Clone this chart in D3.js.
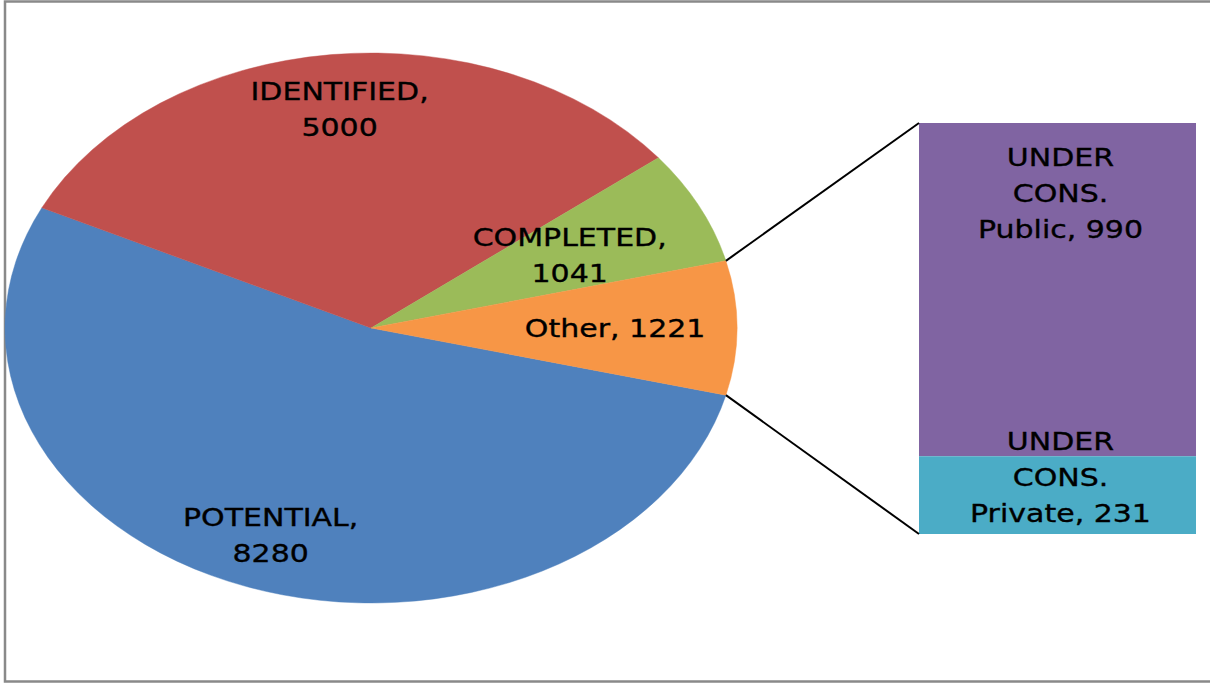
<!DOCTYPE html>
<html><head><meta charset="utf-8">
<script src="https://cdn.jsdelivr.net/npm/d3@7"></script>
<style>html,body{margin:0;padding:0;background:#fff;overflow:hidden}</style>
</head><body>
<svg id="c" width="1210" height="684"></svg>
<script>
// ---- data ----
const pieCategories = ["POTENTIAL", "IDENTIFIED", "COMPLETED"];
const pieValues = [8280, 5000, 1041];
const otherLabel = "Other";
const barCategories = ["UNDER CONS. Public", "UNDER CONS. Private"];
const barValues = [990, 231];

// ---- styles / layout ----
const pieColors = ["#4F81BD", "#C0504D", "#9BBB59"];
const otherColor = "#F79646";
const barColors = ["#8064A2", "#4BACC6"];
const labelRadius = [0.80, 0.80, 0.605]; // fraction of radius for each pie label
const otherLabelRadius = 0.667;

const svg = d3.select("#c");
const W = 1210, H = 684;
svg.append("rect").attr("x", 5).attr("y", 1.5).attr("width", W).attr("height", 680)
  .attr("fill", "#fff").attr("stroke", "#898989").attr("stroke-width", 2.5);

const cx = 371, cy = 328, rx = 366, ry = 275;
const otherValue = d3.sum(barValues);
const allCats = pieCategories.concat([otherLabel]);
const allVals = pieValues.concat([otherValue]);
const allColors = pieColors.concat([otherColor]);
const total = d3.sum(allVals);
const otherFrac = otherValue / total;
const start = Math.PI / 2 + otherFrac * Math.PI;

const pie = d3.pie().sort(null).startAngle(start).endAngle(start + 2 * Math.PI);
const arcs = pie(allVals);
const arc = d3.arc().innerRadius(0).outerRadius(rx);

const pg = svg.append("g").attr("transform", `translate(${cx},${cy}) scale(1,${ry / rx})`);
pg.selectAll("path").data(arcs).join("path")
  .attr("d", arc).attr("fill", (d, i) => allColors[i])
  .attr("stroke", (d, i) => allColors[i]).attr("stroke-width", 0.5);

function pt(a, f) { return [cx + rx * f * Math.sin(a), cy - ry * f * Math.cos(a)]; }

const fontFam = "'DejaVu Sans', sans-serif";
const fs = 25, lh = 36, sx = 1.2;
function drawLabel(x, yFirst, lines) {
  const g = svg.append("g").attr("transform", `translate(${x},${yFirst}) scale(${sx},1)`);
  lines.forEach((t, k) => {
    g.append("text").attr("x", 0).attr("y", k * lh).attr("dy", "0.36em")
      .attr("text-anchor", "middle").attr("font-family", fontFam).attr("font-size", fs)
      .attr("fill", "#000").attr("stroke", "#000").attr("stroke-width", 0.35).text(t);
  });
}

arcs.forEach((d, i) => {
  const mid = (d.startAngle + d.endAngle) / 2;
  const isOther = i === allVals.length - 1;
  const f = isOther ? otherLabelRadius : labelRadius[i];
  const [x, y] = pt(mid, f);
  const lines = isOther ? [`${allCats[i]}, ${allVals[i]}`] : [`${allCats[i]},`, String(allVals[i])];
  drawLabel(x, y - (lines.length - 1) * lh / 2, lines);
});

// ---- bar of pie ----
const bx0 = 919, bx1 = 1196;
const y = d3.scaleLinear().domain([0, otherValue]).range([534, 123]);
// stack: first category on top
const stackData = [];
let acc = 0;
for (let i = barValues.length - 1; i >= 0; i--) {
  stackData[i] = { lo: acc, hi: acc + barValues[i] };
  acc += barValues[i];
}
svg.selectAll("rect.bar").data(barValues).join("rect").attr("class", "bar")
  .attr("x", bx0).attr("width", bx1 - bx0)
  .attr("y", (d, i) => y(stackData[i].hi))
  .attr("height", (d, i) => y(stackData[i].lo) - y(stackData[i].hi))
  .attr("fill", (d, i) => barColors[i]);

// connector lines
const otherArc = arcs[arcs.length - 1];
const pTop = pt(otherArc.startAngle, 1), pBot = pt(otherArc.endAngle, 1);
svg.append("line").attr("x1", pTop[0]).attr("y1", pTop[1]).attr("x2", bx0).attr("y2", y(otherValue))
  .attr("stroke", "#000").attr("stroke-width", 2);
svg.append("line").attr("x1", pBot[0]).attr("y1", pBot[1]).attr("x2", bx0).attr("y2", y(0))
  .attr("stroke", "#000").attr("stroke-width", 2);

// bar labels
const bcx = (bx0 + bx1) / 2 + 3;
barValues.forEach((v, i) => {
  const words = barCategories[i].split(" ");
  const lines = [words[0], words[1], `${words.slice(2).join(" ")}, ${v}`];
  if (i === 0) {
    drawLabel(bcx, y(stackData[i].hi) + 34, lines);
  } else {
    drawLabel(bcx, y(stackData[i].lo) - 21 - (lines.length - 1) * lh, lines);
  }
});
</script>
</body></html>
